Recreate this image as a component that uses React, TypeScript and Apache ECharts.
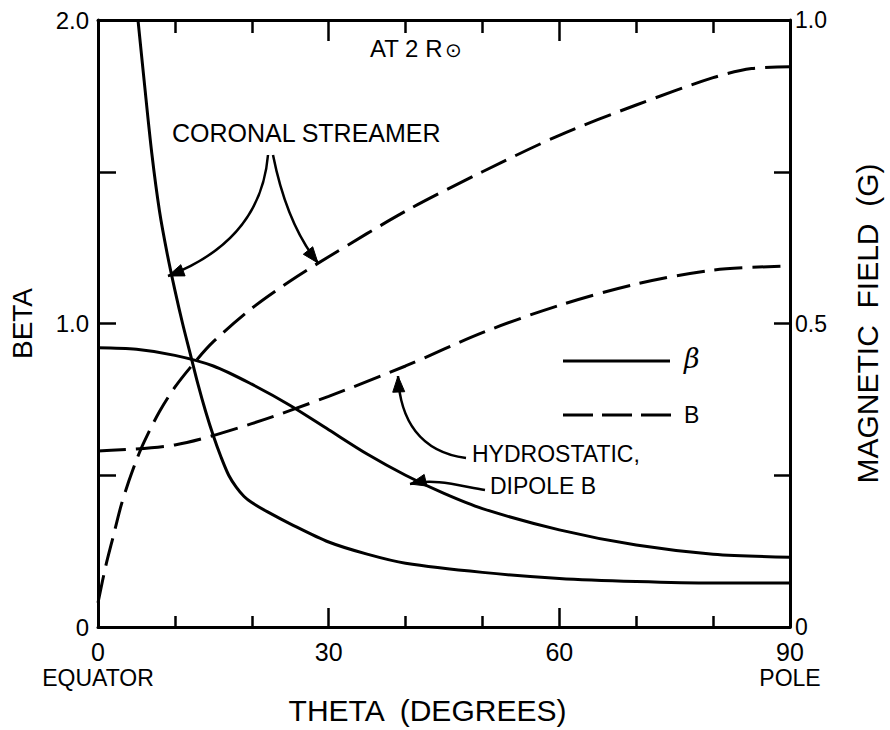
import React, { useEffect, useRef } from 'react';
import * as echarts from 'echarts';

// ---- data ----
const coronalBetaTheta = [5.2, 6, 7, 8, 9, 10, 11, 12, 13, 14, 15, 16, 17, 18, 19, 20, 22, 25, 30, 35, 40, 50, 60, 70, 80, 90];
const coronalBeta = [2.0, 1.8, 1.56, 1.37, 1.23, 1.11, 1.0, 0.9, 0.8, 0.71, 0.63, 0.56, 0.5, 0.46, 0.43, 0.41, 0.38, 0.34, 0.28, 0.24, 0.21, 0.18, 0.16, 0.15, 0.145, 0.145];

const hydroBetaTheta = [0, 5, 10, 15, 20, 25, 30, 35, 40, 45, 50, 60, 70, 80, 90];
const hydroBeta = [0.92, 0.915, 0.895, 0.86, 0.8, 0.73, 0.65, 0.57, 0.5, 0.44, 0.39, 0.32, 0.27, 0.24, 0.23];

const coronalBTheta = [0, 1, 2, 3, 4, 5, 6, 8, 10, 12.5, 15, 20, 25, 30, 40, 50, 60, 70, 80, 85, 90];
const coronalB = [0.04, 0.1, 0.15, 0.2, 0.24, 0.275, 0.305, 0.355, 0.395, 0.435, 0.47, 0.525, 0.57, 0.61, 0.685, 0.75, 0.81, 0.86, 0.905, 0.92, 0.923];

const hydroBTheta = [0, 10, 20, 30, 40, 50, 60, 70, 80, 90];
const hydroB = [0.29, 0.3, 0.335, 0.38, 0.43, 0.485, 0.53, 0.565, 0.588, 0.595];

const thetaLabels: Record<number, string> = { 0: '{n|0}\n{t|EQUATOR}', 30: '{n|30}', 60: '{n|60}', 90: '{n|90}\n{t|POLE}' };
const betaLabels: Record<number, string> = { 0: '0', 1: '1.0', 2: '2.0' };
const fieldLabels: Record<number, string> = { 0: '0', 0.5: '0.5', 1: '1.0' };
const legendNames = ['β', 'B'];

const FONT = 'Liberation Sans, Arial, sans-serif';
const INK = '#000';
const DASH = [28, 10];

function zip(xs: number[], ys: number[]) {
  return xs.map((x, i) => [x, ys[i]]);
}

function head(tip: number[], from: number[], L = 16, W = 6) {
  const dx = tip[0] - from[0];
  const dy = tip[1] - from[1];
  const d = Math.hypot(dx, dy);
  const ux = dx / d, uy = dy / d;
  const bx = tip[0] - ux * L, by = tip[1] - uy * L;
  return [[tip[0], tip[1]], [bx - uy * W, by + ux * W], [bx + uy * W, by - ux * W]];
}

function arrow(p0: number[], c1: number[], c2: number[], tip: number[]) {
  return [
    {
      type: 'bezierCurve',
      shape: { x1: p0[0], y1: p0[1], cpx1: c1[0], cpy1: c1[1], cpx2: c2[0], cpy2: c2[1], x2: tip[0], y2: tip[1] },
      style: { stroke: INK, lineWidth: 2.5, fill: null },
      silent: true,
    },
    {
      type: 'polygon',
      shape: { points: head(tip, c2) },
      style: { fill: INK, stroke: INK, lineWidth: 1 },
      silent: true,
    },
  ];
}

export default function App() {
  const ref = useRef<HTMLDivElement>(null);
  useEffect(() => {
    if (!ref.current) return;
    const chart = echarts.init(ref.current, null, { renderer: 'svg' });
    const axisLine = { show: true, onZero: false, lineStyle: { color: INK, width: 3 } };
    const tickStyle = { color: INK, width: 2.5 };
    const option: any = {
      animation: false,
      backgroundColor: '#fff',
      textStyle: { fontFamily: FONT, color: INK },
      grid: { left: 98, right: 93, top: 20, bottom: 96, containLabel: false },
      xAxis: [
        {
          type: 'value', min: 0, max: 90, interval: 30, position: 'bottom',
          axisLine,
          axisTick: { show: true, inside: true, length: 19, lineStyle: tickStyle },
          minorTick: { show: true, splitNumber: 3, length: 11, lineStyle: tickStyle },
          splitLine: { show: false },
          minorSplitLine: { show: false },
          axisLabel: {
            margin: 16,
            formatter: (v: number) => thetaLabels[v] ?? '',
            rich: {
              n: { fontSize: 25, lineHeight: 18, fontFamily: FONT, color: INK },
              t: { fontSize: 23, lineHeight: 33, fontFamily: FONT, color: INK },
            },
          },
          name: 'THETA  (DEGREES)',
          nameLocation: 'middle',
          nameGap: 68,
          nameTextStyle: { fontSize: 30, fontFamily: FONT, color: INK, padding: [0, 33, 0, 0] },
        },
        {
          type: 'value', min: 0, max: 90, interval: 30, position: 'top',
          axisLine,
          axisTick: { show: true, inside: true, length: 21, lineStyle: tickStyle },
          minorTick: { show: true, splitNumber: 3, length: 13, lineStyle: tickStyle },
          splitLine: { show: false },
          axisLabel: { show: false },
        },
      ],
      yAxis: [
        {
          type: 'value', min: 0, max: 2, interval: 0.5, position: 'left',
          axisLine,
          axisTick: { show: true, inside: true, length: 18, lineStyle: tickStyle },
          splitLine: { show: false },
          axisLabel: {
            margin: 9, fontSize: 24, lineHeight: 18, fontFamily: FONT, color: INK,
            formatter: (v: number) => betaLabels[v] ?? '',
          },
          name: 'BETA',
          nameLocation: 'middle',
          nameRotate: 90,
          nameGap: 62,
          nameTextStyle: { fontSize: 28, fontFamily: FONT, color: INK },
        },
        {
          type: 'value', min: 0, max: 1, interval: 0.25, position: 'right',
          axisLine,
          axisTick: { show: true, inside: true, length: 16, lineStyle: tickStyle },
          splitLine: { show: false },
          axisLabel: {
            margin: 5, fontSize: 23, lineHeight: 18, fontFamily: FONT, color: INK,
            formatter: (v: number) => fieldLabels[v] ?? '',
          },
          name: 'MAGNETIC  FIELD  (G)',
          nameLocation: 'middle',
          nameRotate: 90,
          nameGap: 62,
          nameTextStyle: { fontSize: 30, fontFamily: FONT, color: INK },
        },
      ],
      series: [
        {
          name: legendNames[0], type: 'line', xAxisIndex: 0, yAxisIndex: 0,
          data: zip(coronalBetaTheta, coronalBeta), smooth: 0.3, symbol: 'none',
          lineStyle: { color: INK, width: 3 }, itemStyle: { color: INK },
        },
        {
          name: legendNames[0], type: 'line', xAxisIndex: 0, yAxisIndex: 0,
          data: zip(hydroBetaTheta, hydroBeta), smooth: 0.3, symbol: 'none',
          lineStyle: { color: INK, width: 3 }, itemStyle: { color: INK },
        },
        {
          name: legendNames[1], type: 'line', xAxisIndex: 0, yAxisIndex: 1,
          data: zip(coronalBTheta, coronalB), smooth: 0.3, symbol: 'none',
          lineStyle: { color: INK, width: 3, type: DASH }, itemStyle: { color: INK },
        },
        {
          name: legendNames[1], type: 'line', xAxisIndex: 0, yAxisIndex: 1,
          data: zip(hydroBTheta, hydroB), smooth: 0.3, symbol: 'none',
          lineStyle: { color: INK, width: 3, type: DASH }, itemStyle: { color: INK },
        },
      ],
      graphic: [
        // legend key
        {
          type: 'line', silent: true,
          shape: { x1: 563, y1: 361, x2: 670, y2: 361 },
          style: { stroke: INK, lineWidth: 3 },
        },
        {
          type: 'text', left: 684, top: 345, silent: true,
          style: { text: legendNames[0], fontSize: 27, fontStyle: 'italic', fontFamily: 'DejaVu Serif, serif', fill: INK },
        },
        {
          type: 'line', silent: true,
          shape: { x1: 563, y1: 415, x2: 672, y2: 415 },
          style: { stroke: INK, lineWidth: 3, lineDash: [30, 9] },
        },
        {
          type: 'text', left: 684, top: 403, silent: true,
          style: { text: legendNames[1], fontSize: 23, fontFamily: FONT, fill: INK },
        },
        {
          type: 'text', left: 370, top: 36, silent: true,
          style: {
            text: '{a|AT 2 R}{s|⊙}',
            rich: {
              a: { fontSize: 24, fontFamily: FONT, fill: INK, lineHeight: 30, verticalAlign: 'bottom' },
              s: { fontSize: 20, fontFamily: 'DejaVu Sans, sans-serif', fill: INK, padding: [8, 0, 0, 2], verticalAlign: 'bottom' },
            },
          },
        },
        {
          type: 'text', left: 172, top: 120, silent: true,
          style: { text: 'CORONAL STREAMER', fontSize: 25, fontFamily: FONT, fill: INK },
        },
        {
          type: 'text', left: 472, top: 442, silent: true,
          style: { text: 'HYDROSTATIC,', fontSize: 23, fontFamily: FONT, fill: INK },
        },
        {
          type: 'text', left: 490, top: 474, silent: true,
          style: { text: 'DIPOLE B', fontSize: 23, fontFamily: FONT, fill: INK },
        },
        ...arrow([268, 155], [262, 225], [215, 258], [168, 276]),
        ...arrow([273, 155], [282, 200], [298, 238], [318, 263]),
        ...arrow([466, 458], [420, 452], [400, 420], [398, 376]),
        ...arrow([485, 490], [460, 486], [435, 478], [410, 484]),
      ],
    };
    chart.setOption(option);
    return () => chart.dispose();
  }, []);
  return (
    <div
      ref={ref}
      style={{ position: 'absolute', left: 0, top: 0, width: 890, height: 730, background: '#fff' }}
    />
  );
}
